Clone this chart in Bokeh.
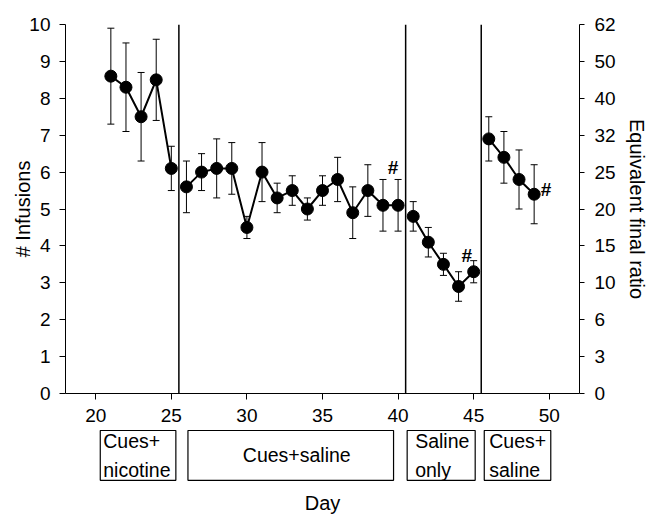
from bokeh.plotting import figure
from bokeh.models import (ColumnDataSource, Range1d, LinearAxis, FixedTicker,
                          Whisker, TeeHead, Span, Title)
from bokeh.layouts import column
from bokeh.embed import file_html
from bokeh.resources import INLINE
from bokeh.core.properties import value

# ---------------- data ----------------
days = list(range(21, 50))
infusions = [8.6, 8.3, 7.5, 8.5, 6.1,
             5.6, 6.0, 6.1, 6.1, 4.5, 6.0, 5.3, 5.5, 5.0, 5.5, 5.8, 4.9, 5.5, 5.1, 5.1,
             4.8, 4.1, 3.5, 2.9, 3.3,
             6.9, 6.4, 5.8, 5.4]
sem = [1.3, 1.2, 1.2, 1.1, 0.6,
       0.7, 0.5, 0.8, 0.7, 0.3, 0.8, 0.4, 0.4, 0.3, 0.4, 0.6, 0.7, 0.7, 0.7, 0.7,
       0.4, 0.4, 0.3, 0.4, 0.3,
       0.6, 0.7, 0.8, 0.8]
phase = [0] * 5 + [1] * 15 + [2] * 5 + [3] * 4

phase_labels = ["Cues+\nnicotine", "Cues+saline", "Saline\nonly", "Cues+\nsaline"]
phase_start = [20.3, 26.1, 40.6, 45.7]
phase_end = [25.3, 39.7, 45.1, 50.1]
phase_boundaries = [25.5, 40.5, 45.5]

sig_days = [40, 45, 49]

left_ticks = list(range(0, 11))
ratio_labels = ["0", "3", "6", "10", "15", "20", "25", "32", "40", "50", "62"]

FONT = "Liberation Sans"
TICK_FS = "19px"
LABEL_FS = "20px"

# ---------------- main figure ----------------
p = figure(width=652, height=428, x_range=Range1d(18, 52), y_range=Range1d(0, 10),
           output_backend="svg", toolbar_location=None,
           min_border_left=65, min_border_right=73, min_border_top=24, min_border_bottom=35)
p.outline_line_color = None
p.grid.visible = False
p.background_fill_color = "white"
p.border_fill_color = "white"

rax = LinearAxis(ticker=FixedTicker(ticks=left_ticks),
                 major_label_overrides={t: l for t, l in zip(left_ticks, ratio_labels)})
p.add_layout(rax, "right")

for ax in (p.xaxis[0], p.yaxis[0], rax):
    ax.axis_line_color = "black"
    ax.axis_line_width = 1
    ax.major_tick_line_color = "black"
    ax.major_tick_out = 6
    ax.major_tick_in = 0
    ax.minor_tick_line_color = None
    ax.major_label_text_font = FONT
    ax.major_label_text_font_size = TICK_FS
    ax.major_label_text_color = "black"
    ax.axis_label_text_font = FONT
    ax.axis_label_text_font_size = LABEL_FS
    ax.axis_label_text_font_style = "normal"
    ax.axis_label_text_color = "black"

p.xaxis[0].ticker = FixedTicker(ticks=[20, 25, 30, 35, 40, 45, 50])
p.xaxis[0].major_label_standoff = 9
p.yaxis[0].ticker = FixedTicker(ticks=left_ticks)
p.yaxis[0].major_label_standoff = 9
p.yaxis[0].axis_label = "# Infusions"
p.yaxis[0].axis_label_standoff = -8

rax.axis_label = "Equivalent final ratio"
rax.major_tick_out = 5
rax.major_label_standoff = 10
rax.axis_label_standoff = 7

for b in phase_boundaries:
    p.add_layout(Span(location=b, dimension="height", line_color="black", line_width=1.5))

upper = [m + s for m, s in zip(infusions, sem)]
lower = [m - s for m, s in zip(infusions, sem)]
src = ColumnDataSource(dict(day=days, mean=infusions, upper=upper, lower=lower))

p.add_layout(Whisker(source=src, base="day", upper="upper", lower="lower",
                     line_color="black", line_width=1,
                     upper_head=TeeHead(size=7, line_color="black", line_width=1),
                     lower_head=TeeHead(size=7, line_color="black", line_width=1)))

for ph in range(len(phase_labels)):
    xs = [d for d, q in zip(days, phase) if q == ph]
    ys = [v for v, q in zip(infusions, phase) if q == ph]
    p.line(xs, ys, line_color="black", line_width=2)

p.scatter("day", "mean", source=src, size=12, fill_color="black", line_color="black")

sig_y = [infusions[days.index(d)] for d in sig_days]
sig_src = ColumnDataSource(dict(x=sig_days, y=sig_y, text=["#"] * len(sig_days),
                                xo=[-5, -7, 12], yo=[-38, -16, -5]))
p.text("x", "y", text="text", source=sig_src, x_offset="xo", y_offset="yo",
       text_font=value(FONT), text_font_size="19px", text_font_style="bold",
       text_align="center", text_baseline="middle", text_color="black")

# ---------------- phase boxes ----------------
p2 = figure(width=652, height=89, x_range=p.x_range, y_range=Range1d(0, 1),
            output_backend="svg", toolbar_location=None,
            x_axis_location=None, y_axis_location=None,
            min_border_left=65, min_border_right=73, min_border_top=0, min_border_bottom=0)
p2.outline_line_color = None
p2.grid.visible = False

p2.quad(left=phase_start, right=phase_end, top=0.965, bottom=0.09,
        fill_color="white", line_color="black", line_width=1.2)

aligns = ["left" if "\n" in l else "center" for l in phase_labels]
tx = [s if a == "left" else (s + e) / 2 for s, e, a in zip(phase_start, phase_end, aligns)]
box_src = ColumnDataSource(dict(x=tx, y=[0.53] * len(tx), text=phase_labels,
                                align=aligns, xo=[3, 6, 8, 5]))
p2.text("x", "y", text="text", source=box_src, x_offset="xo", text_align="align",
        text_baseline="middle", text_font=value(FONT), text_font_size="19.5px",
        text_line_height=1.3, text_color="black")

p2.add_layout(Title(text="Day", align="center", text_font=FONT, text_font_size=LABEL_FS,
                    text_font_style="normal", text_color="black", standoff=8), "below")

layout = column(p, p2, spacing=0)
open("out.html", "w").write(file_html(layout, INLINE))
